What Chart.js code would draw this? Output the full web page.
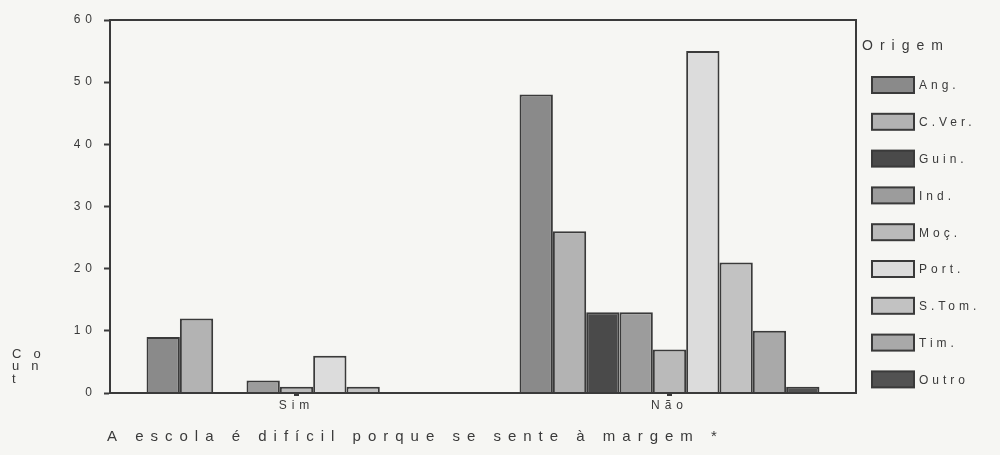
<!DOCTYPE html>
<html><head><meta charset="utf-8">
<script src="https://cdn.jsdelivr.net/npm/chart.js@4"></script>
<style>html,body{margin:0;padding:0;background:#f6f6f3;}</style>
</head><body>
<canvas id="c" width="1000" height="455"></canvas>
<script>
// ---- data ----
const categories = ['Sim', 'Não'];
const origins = ['Ang.', 'C.Ver.', 'Guin.', 'Ind.', 'Moç.', 'Port.', 'S.Tom.', 'Tim.', 'Outro'];
const angValues   = [9, 48];
const cverValues  = [12, 26];
const guinValues  = [0, 13];
const indValues   = [2, 13];
const mocValues   = [1, 7];
const portValues  = [6, 55];
const stomValues  = [1, 21];
const timValues   = [0, 10];
const outroValues = [0, 1];
const seriesValues = [angValues, cverValues, guinValues, indValues, mocValues, portValues, stomValues, timValues, outroValues];
const seriesColors = ['#8a8a8a', '#b3b3b3', '#4a4a4a', '#9c9c9c', '#bababa', '#dcdcdc', '#c2c2c2', '#a9a9a9', '#525252'];
const yMin = 0, yMax = 60, yStep = 10;
const xAxisTitle = 'A escola é difícil porque se sente à margem *';
const yAxisTitle = 'Count';
const legendTitle = 'Origem';

const BG = '#f6f6f3';
const INK = '#3a3a3a';
const FONT = '"Liberation Sans", Arial, sans-serif';

const datasets = origins.map((name, i) => ({
  label: name,
  data: seriesValues[i],
  backgroundColor: seriesColors[i],
  borderColor: INK,
  borderWidth: 2,
  categoryPercentage: 0.804,
  barPercentage: 1.0
}));

const decor = {
  id: 'decor',
  beforeUpdate(chart) { chart.ctx.letterSpacing = '5px'; },
  beforeLayout(chart) { chart.ctx.letterSpacing = '5px'; },
  beforeDraw(chart) {
    const ctx = chart.ctx;
    ctx.save();
    ctx.fillStyle = BG;
    ctx.fillRect(0, 0, chart.width, chart.height);
    ctx.restore();
    ctx.letterSpacing = '5px';
  },
  afterDatasetsDraw(chart) {
    const ctx = chart.ctx, a = chart.chartArea;
    ctx.save();
    ctx.strokeStyle = INK;
    ctx.lineWidth = 2;
    ctx.strokeRect(a.left, a.top, a.right - a.left, a.bottom - a.top);
    ctx.restore();
  },
  afterDraw(chart) {
    const ctx = chart.ctx, a = chart.chartArea;
    ctx.save();
    ctx.fillStyle = INK;
    // legend title
    ctx.letterSpacing = '7px';
    ctx.font = '14px ' + FONT;
    ctx.textBaseline = 'middle';
    ctx.textAlign = 'left';
    ctx.fillText(legendTitle, a.right + 6, 46);
    // legend items
    ctx.letterSpacing = '4px';
    ctx.font = '12px ' + FONT;
    chart.data.datasets.forEach((ds, i) => {
      const cy = 85 + i * 36.8;
      const bx = a.right + 16;
      ctx.fillStyle = ds.backgroundColor;
      ctx.fillRect(bx, cy - 8, 42, 16);
      ctx.strokeStyle = INK;
      ctx.lineWidth = 2;
      ctx.strokeRect(bx, cy - 8, 42, 16);
      ctx.fillStyle = INK;
      ctx.fillText(ds.label, bx + 47, cy + 1);
    });
    // y axis title "Count" wrapped
    ctx.letterSpacing = '12px';
    ctx.font = '13px ' + FONT;
    const parts = [yAxisTitle.slice(0, 2), yAxisTitle.slice(2, 4), yAxisTitle.slice(4)];
    parts.forEach((p, i) => ctx.fillText(p, 12, 354 + i * 12.5));
    // x axis title
    ctx.letterSpacing = '7px';
    ctx.font = '15px ' + FONT;
    ctx.fillText(xAxisTitle, a.left - 3, 437);
    ctx.restore();
    ctx.letterSpacing = '5px';
  }
};

new Chart(document.getElementById('c'), {
  type: 'bar',
  data: { labels: categories, datasets },
  options: {
    responsive: false,
    animation: false,
    devicePixelRatio: 1,
    layout: { padding: { top: 20, right: 144, left: 0, bottom: 0 } },
    plugins: { legend: { display: false }, tooltip: { enabled: false } },
    scales: {
      x: {
        grid: { display: true, drawOnChartArea: false, offset: false, tickLength: 3, tickWidth: 5, tickColor: INK },
        border: { display: true, color: INK, width: 2 },
        ticks: { color: INK, font: { family: FONT, size: 12 }, padding: 2 },
        afterFit(s) { s.height = 62; }
      },
      y: {
        min: yMin, max: yMax,
        grid: { display: true, drawOnChartArea: false, tickLength: 6, tickWidth: 2, tickColor: INK },
        border: { display: true, color: INK, width: 2 },
        ticks: { stepSize: yStep, color: INK, font: { family: FONT, size: 12 }, padding: 7 },
        afterFit(s) { s.width = 110; }
      }
    }
  },
  plugins: [decor]
});
</script>
</body></html>
